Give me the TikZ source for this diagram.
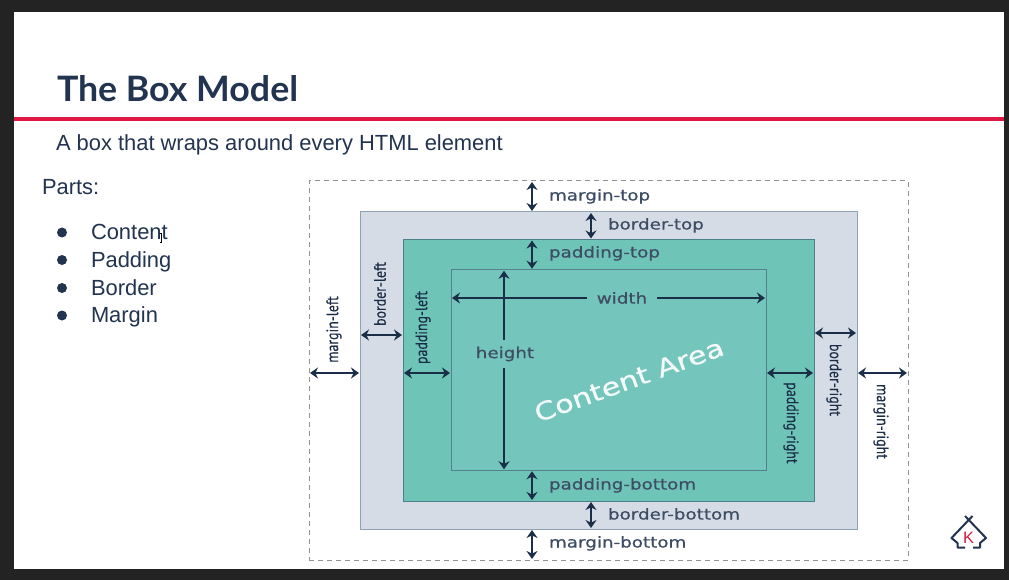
\documentclass[tikz,border=0pt]{standalone}
\usepackage{fontspec}
\setmainfont{Liberation Sans}
\newfontfamily\titlefont[FakeStretch=1.02]{Lato}
\newfontfamily\boxfont[FakeStretch=1.22,FakeBold=0.6]{DejaVu Sans}
\newfontfamily\sidefont[FakeStretch=0.84,FakeBold=0.4]{PT Sans}
\usetikzlibrary{arrows.meta}
\definecolor{slideink}{HTML}{22344F}
\definecolor{dimink}{HTML}{1B2E47}
\definecolor{redrule}{HTML}{DE1744}
\definecolor{backdrop}{HTML}{232323}
\definecolor{boxgrey}{HTML}{D6DCE6}
\definecolor{boxgreyedge}{HTML}{8FA1B5}
\definecolor{padgreen}{HTML}{6FC4B8}
\definecolor{padedge}{HTML}{4C7F8A}
\definecolor{contentgreen}{HTML}{74C5BC}
\definecolor{contentedge}{HTML}{55828A}
\tikzset{
    every node/.style={inner sep=0pt,outer sep=0pt,text=slideink},
    bodytext/.style={anchor=base west,font=\fontsize{21.9}{26}\selectfont},
    bulletdot/.style={circle,fill=slideink,minimum size=10pt},
    boxlabel/.style={anchor=base west,font=\boxfont\fontsize{15}{16}\selectfont,text=dimink!85!white},
    sidelabel/.style={font=\sidefont\fontsize{16.5}{18}\selectfont,text=dimink},
    dimline/.style={line width=2.1pt,draw=dimink,{Stealth[length=8pt,width=11pt]}-{Stealth[length=8pt,width=11pt]},shorten >=1pt,shorten <=1pt},
    oneway/.style={line width=2.1pt,draw=dimink,-{Stealth[length=8pt,width=11pt]},shorten >=1pt}
}

\begin{document}
\begin{tikzpicture}[x=1pt,y=-1pt]
        \useasboundingbox (0,0) rectangle (1009,580);
        \fill[backdrop] (0,0) rectangle (1009,580);
        \fill[white] (14,12) rectangle (1004,569);
        \fill[redrule] (14,117.5) rectangle (1004,121.5);

        \node[anchor=base west,font=\titlefont\bfseries\fontsize{35}{38}\selectfont] (title) at (57,102) {The Box Model};
        \node[bodytext] (subtitle) at (56,151) {A box that wraps around every HTML element};
        \node[bodytext] (parts) at (42,195) {Parts:};

        \node[bulletdot] (dotcontent) at (62,232.5) {};
        \node[bulletdot] (dotpadding) at (62,260) {};
        \node[bulletdot] (dotborder) at (62,288) {};
        \node[bulletdot] (dotmargin) at (62,315.5) {};
        \node[bodytext] (contentitem) at (91,240) {Content};
        \node[bodytext] (paddingitem) at (91,267.5) {Padding};
        \node[bodytext] (borderitem) at (91,295) {Border};
        \node[bodytext] (marginitem) at (91,322.5) {Margin};
        \draw[line width=.8pt,black] (160,233) -- (162,233) (161,233) -- (161,242) (160,242) -- (162,242);

        \node[draw=gray!85,line width=1pt,dash pattern=on 5pt off 4pt,minimum width=599pt,minimum height=379pt] (margin) at (608.5,370.5) {};
        \node[draw=boxgreyedge,fill=boxgrey,line width=1pt,minimum width=497pt,minimum height=317pt] (border) at (608.5,370.5) {};
        \node[draw=padedge,fill=padgreen,line width=1pt,minimum width=411pt,minimum height=261.5pt] (padding) at (608.5,370.25) {};
        \node[draw=contentedge,fill=contentgreen,line width=1pt,minimum width=315pt,minimum height=200.5pt] (content) at (608.5,370) {};

        \coordinate (xmid) at (532,0);
        \coordinate (xside) at (591,0);
        \coordinate (ylow) at (0,373);
        \coordinate (yborderl) at (0,335);
        \coordinate (yborderr) at (0,333);

        \node[boxlabel] (margintop) at (549,200.5) {margin-top};
        \node[boxlabel] (bordertop) at (608,229.5) {border-top};
        \node[boxlabel] (paddingtop) at (549,257.5) {padding-top};
        \node[boxlabel] (paddingbottom) at (549,489.5) {padding-bottom};
        \node[boxlabel] (borderbottom) at (608,519.5) {border-bottom};
        \node[boxlabel] (marginbottom) at (549,547.5) {margin-bottom};

        \node[sidelabel,rotate=90] (marginleft) at (334,329.5) {margin-left};
        \node[sidelabel,rotate=90] (borderleft) at (380,294) {border-left};
        \node[sidelabel,rotate=90] (paddingleft) at (423,327.5) {padding-left};
        \node[sidelabel,rotate=-90] (paddingright) at (791,423) {padding-right};
        \node[sidelabel,rotate=-90] (borderright) at (834,380) {border-right};
        \node[sidelabel,rotate=-90] (marginright) at (881,421.5) {margin-right};

        \node[boxlabel,anchor=center,inner xsep=10pt] (widthlabel) at (622,298) {width};
        \node[boxlabel,anchor=center,inner ysep=7pt] (heightlabel) at (505,354) {height};
        \node[rotate=20,text=white!92!contentgreen,font=\boxfont\fontsize{24.8}{30}\selectfont] (contentarea) at (629,380) {Content Area};

        \draw[dimline] (xmid |- margin.north) -- (xmid |- border.north);
        \draw[dimline] (xside |- border.north) -- (xside |- padding.north);
        \draw[dimline] (xmid |- padding.north) -- (xmid |- content.north);
        \draw[dimline] (xmid |- content.south) -- (xmid |- padding.south);
        \draw[dimline] (xside |- padding.south) -- (xside |- border.south);
        \draw[dimline] (xmid |- border.south) -- (xmid |- margin.south);

        \draw[dimline] (margin.west |- ylow) -- (border.west |- ylow);
        \draw[dimline] (border.west |- yborderl) -- (padding.west |- yborderl);
        \draw[dimline] (padding.west |- ylow) -- (content.west |- ylow);
        \draw[dimline] (content.east |- ylow) -- (padding.east |- ylow);
        \draw[dimline] (padding.east |- yborderr) -- (border.east |- yborderr);
        \draw[dimline] (border.east |- ylow) -- (margin.east |- ylow);

        \draw[oneway] (widthlabel.west) -- (content.west |- widthlabel);
        \draw[oneway] (widthlabel.east) -- (content.east |- widthlabel);
        \draw[oneway] (heightlabel.north -| 504,0) -- (504,0 |- content.north);
        \draw[oneway] (heightlabel.south -| 504,0) -- (504,0 |- content.south);

        \draw[slideink,line width=2pt,line join=round] (972.5,516) -- (951.5,538) -- (957.5,543) -- (957.5,547.5) -- (965,547.5);
        \draw[slideink,line width=2pt,line join=round] (965,516) -- (986,538) -- (980,543) -- (980,547.5) -- (973,547.5);
        \node[text=redrule,font=\fontsize{16.5}{17}\selectfont] (logok) at (968.5,537.5) {K};
\end{tikzpicture}
\end{document}
